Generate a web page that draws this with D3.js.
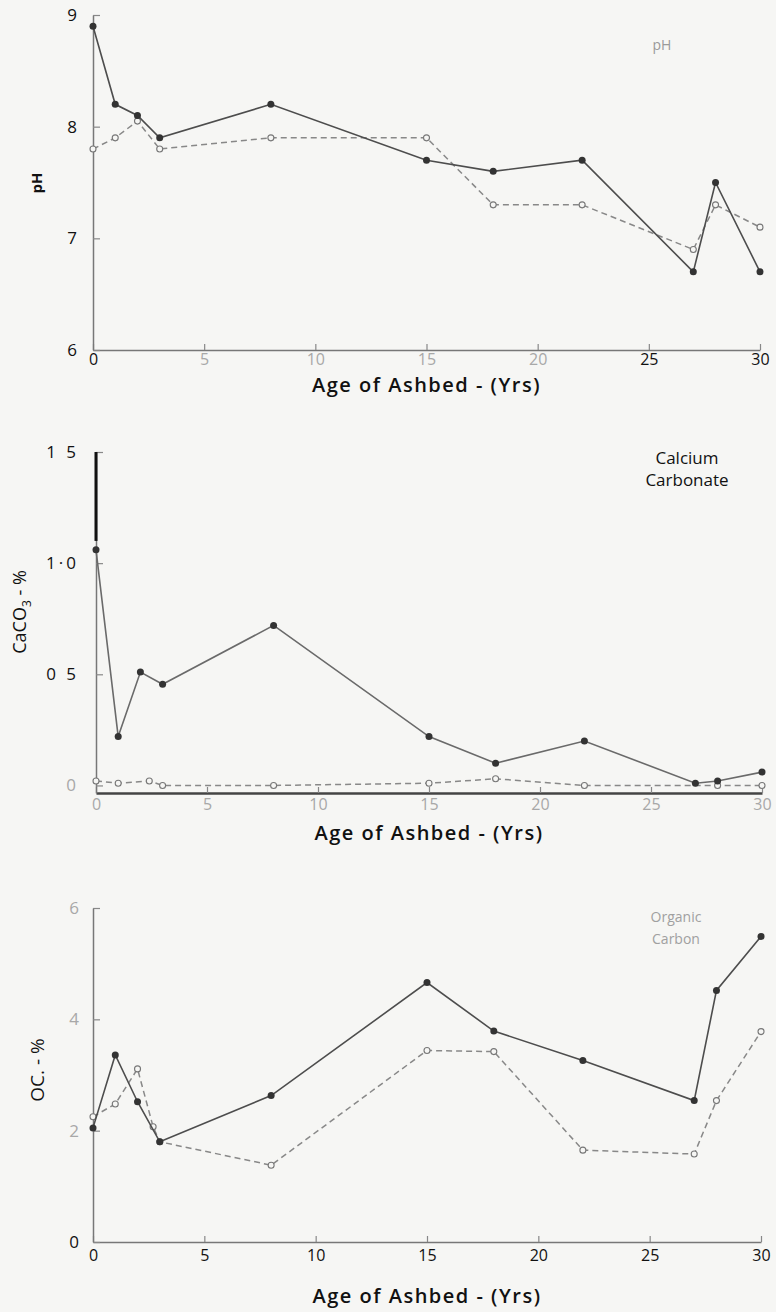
<!DOCTYPE html>
<html>
<head>
<meta charset="utf-8">
<script src="https://cdn.jsdelivr.net/npm/d3@7"></script>
<style>
  html, body { margin: 0; padding: 0; background: #f6f6f4; }
  svg { display: block; }
  text { font-family: "Open Sans", "Noto Sans", sans-serif; }
</style>
</head>
<body>
<svg id="chart" width="776" height="1312"></svg>
<script>
// Age of ashbed (years) at which each series was sampled
const agePh = [0, 1, 2, 3, 8, 15, 18, 22, 27, 28, 30];
const phSolid = [8.9, 8.2, 8.1, 7.9, 8.2, 7.7, 7.6, 7.7, 6.7, 7.5, 6.7];
const phDashed = [7.8, 7.9, 8.05, 7.8, 7.9, 7.9, 7.3, 7.3, 6.9, 7.3, 7.1];

const ageCaSolid = [0, 1, 2, 3, 8, 15, 18, 22, 27, 28, 30];
const caSolid = [1.06, 0.22, 0.51, 0.455, 0.72, 0.22, 0.10, 0.20, 0.01, 0.02, 0.06];
const ageCaDashed = [0, 1, 2.4, 3, 8, 15, 18, 22, 28, 30];
const caDashed = [0.02, 0.01, 0.02, 0.0, 0.0, 0.01, 0.03, 0.0, 0.0, 0.0];

const ageOcSolid = [0, 1, 2, 3, 8, 15, 18, 22, 27, 28, 30];
const ocSolid = [2.05, 3.36, 2.52, 1.80, 2.63, 4.66, 3.79, 3.26, 2.54, 4.52, 5.49];
const ageOcDashed = [0, 1, 2, 2.7, 3, 8, 15, 18, 22, 27, 28, 30];
const ocDashed = [2.25, 2.48, 3.11, 2.07, 1.80, 1.38, 3.44, 3.42, 1.65, 1.58, 2.54, 3.78];

// Tick values and their printed labels
const xTicks = [0, 5, 10, 15, 20, 25, 30];
const phTicks = [6, 7, 8, 9];
const caTicks = [0, 0.5, 1.0, 1.5];
const caTickLabels = ["0", "0 5", "1·0", "1 5"];
const ocTicks = [0, 2, 4, 6];

const xTitle = "Age of Ashbed - (Yrs)";

const svg = d3.select("#chart");
const zip = (xs, ys) => xs.map((x, i) => ({ x, y: ys[i] }));

function drawPanel(p) {
  const g = svg.append("g");
  const x = d3.scaleLinear().domain([0, 30]).range(p.xRange);
  const y = d3.scaleLinear().domain(p.yDomain).range(p.yRange);
  const y0 = p.yRange[0];

  // x axis with inward ticks
  const xa = g.append("g")
    .attr("transform", `translate(0,${y0})`)
    .call(d3.axisBottom(x).tickValues(xTicks).tickSizeInner(-6).tickSizeOuter(0).tickPadding(p.xPad).tickFormat(d3.format("d")));
  xa.select(".domain").attr("stroke", p.xAxisColor).attr("stroke-width", p.xAxisWidth);
  xa.selectAll(".tick line").attr("stroke", "#888").attr("stroke-width", 1.2);
  xa.selectAll(".tick text")
    .attr("font-size", 16)
    .attr("fill", d => p.xLabelColor(d));

  // y axis with inward ticks
  const ya = g.append("g")
    .attr("transform", `translate(${p.xRange[0]},0)`)
    .call(d3.axisLeft(y).tickValues(p.yTicks).tickSizeInner(-7).tickSizeOuter(0).tickPadding(p.yPad)
      .tickFormat(p.yFormat));
  ya.select(".domain").attr("stroke", "#777").attr("stroke-width", 1.5);
  ya.selectAll(".tick line").attr("stroke", "#888").attr("stroke-width", 1.2);
  ya.selectAll(".tick text")
    .attr("font-size", 17)
    .attr("letter-spacing", p.yLetterSpacing || 0)
    .attr("fill", d => p.yLabelColor(d));

  if (p.axisAccent) {
    g.append("line")
      .attr("x1", p.xRange[0]).attr("x2", p.xRange[0])
      .attr("y1", y(p.axisAccent[0])).attr("y2", y(p.axisAccent[1]))
      .attr("stroke", "#111").attr("stroke-width", 3);
  }

  const line = d3.line().x(d => x(d.x)).y(d => y(d.y));

  // dashed series with open circles
  const dashed = zip(p.dashedX, p.dashedY);
  g.append("path").datum(dashed)
    .attr("d", line).attr("fill", "none")
    .attr("stroke", "#888").attr("stroke-width", 1.5)
    .attr("stroke-dasharray", "6,4");
  g.selectAll(".open").data(dashed).join("circle")
    .attr("cx", d => x(d.x)).attr("cy", d => y(d.y)).attr("r", 3)
    .attr("fill", "#f6f6f4").attr("stroke", "#777").attr("stroke-width", 1.1);

  // solid series with filled circles
  const solid = zip(p.solidX, p.solidY);
  g.append("path").datum(solid)
    .attr("d", line).attr("fill", "none")
    .attr("stroke", p.solidColor).attr("stroke-width", 1.6);
  g.selectAll(".filled").data(solid).join("circle")
    .attr("cx", d => x(d.x)).attr("cy", d => y(d.y)).attr("r", 3.5)
    .attr("fill", "#333");

  // x axis title
  g.append("text")
    .attr("x", x(15)).attr("y", p.xTitleY)
    .attr("text-anchor", "middle")
    .attr("font-size", 20)
    .attr("font-weight", 600)
    .attr("letter-spacing", 1.5)
    .attr("fill", "#111")
    .text(xTitle);

  // y axis title (rotated)
  const yt = g.append("text")
    .attr("transform", `translate(${p.yTitleX},${p.yTitleY}) rotate(-90)`)
    .attr("text-anchor", "middle")
    .attr("font-size", p.yTitleSize)
    .attr("fill", "#111");
  p.yTitle(yt);

  // panel name in the upper right
  p.name.forEach((t, i) => {
    g.append("text")
      .attr("x", p.nameX).attr("y", p.nameY + i * 22)
      .attr("text-anchor", "middle")
      .attr("font-size", p.nameSize)
      .attr("font-family", p.nameFont)
      .attr("fill", p.nameColor)
      .text(t);
  });
}

const grey = "#a8a8a8";

// pH
drawPanel({
  xRange: [93, 760], yDomain: [6, 9], yRange: [350, 15], yTicks: phTicks,
  yFormat: d3.format("d"), xPad: 4, yPad: 16,
  xAxisColor: "#777", xAxisWidth: 1.5,
  xLabelColor: d => (d === 0 || d >= 25) ? "#111" : grey,
  yLabelColor: () => "#111",
  solidX: agePh, solidY: phSolid, dashedX: agePh, dashedY: phDashed,
  solidColor: "#4d4d4d",
  xTitleY: 392, yTitleX: 42, yTitleY: 183, yTitleSize: 15,
  yTitle: t => t.attr("font-weight", "bold").text("pH"),
  name: ["pH"], nameX: 662, nameY: 50, nameSize: 14, nameFont: "Open Sans", nameColor: "#9a9a9a"
});

// Calcium carbonate
drawPanel({
  xRange: [96, 762], yDomain: [-0.034, 1.5], yRange: [793, 452], yTicks: caTicks,
  yFormat: d => caTickLabels[caTicks.indexOf(d)], xPad: 6, yPad: 17, yLetterSpacing: 3,
  xAxisColor: "#444", xAxisWidth: 2.5,
  xLabelColor: () => grey,
  yLabelColor: d => d === 0 ? grey : "#111",
  axisAccent: [1.5, 1.1],
  solidX: ageCaSolid, solidY: caSolid, dashedX: ageCaDashed, dashedY: caDashed,
  solidColor: "#6a6a6a",
  xTitleY: 840, yTitleX: 26, yTitleY: 612, yTitleSize: 18,
  yTitle: t => {
    t.append("tspan").text("CaCO");
    t.append("tspan").attr("font-size", 12).attr("dy", 5).text("3");
    t.append("tspan").attr("dy", -5).text(" - %");
  },
  name: ["Calcium", "Carbonate"], nameX: 687, nameY: 464, nameSize: 17,
  nameFont: "Liberation Serif", nameColor: "#111"
});

// Organic carbon
drawPanel({
  xRange: [93, 761], yDomain: [0, 6], yRange: [1242, 908], yTicks: ocTicks,
  yFormat: d3.format("d"), xPad: 8, yPad: 14,
  xAxisColor: "#777", xAxisWidth: 1.5,
  xLabelColor: () => "#111",
  yLabelColor: d => d === 0 ? "#111" : grey,
  solidX: ageOcSolid, solidY: ocSolid, dashedX: ageOcDashed, dashedY: ocDashed,
  solidColor: "#4d4d4d",
  xTitleY: 1303, yTitleX: 44, yTitleY: 1070, yTitleSize: 19,
  yTitle: t => t.text("OC. - %"),
  name: ["Organic", "Carbon"], nameX: 676, nameY: 922, nameSize: 14,
  nameFont: "Open Sans", nameColor: "#a0a0a0"
});
</script>
</body>
</html>
